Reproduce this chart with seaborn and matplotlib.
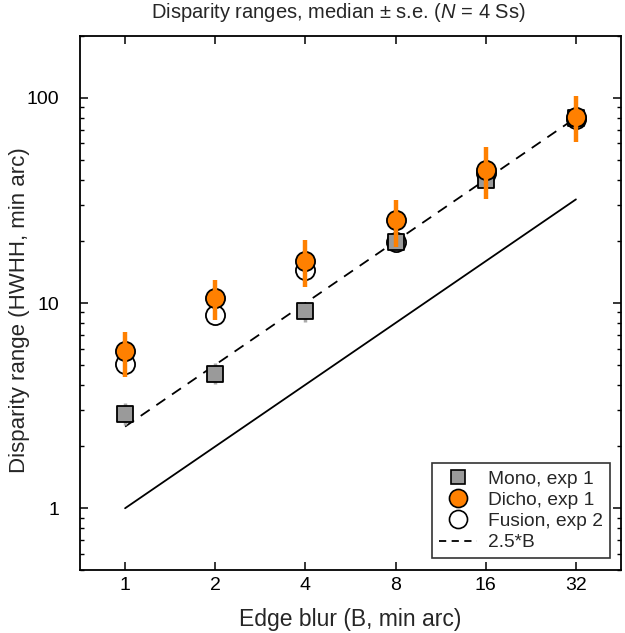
import numpy as np
import pandas as pd
import matplotlib
matplotlib.use("Agg")
import matplotlib.pyplot as plt
import seaborn as sns
from matplotlib.lines import Line2D
from matplotlib.ticker import FixedLocator, NullFormatter, LogLocator, NullLocator

sns.set_style("ticks")
plt.rcParams['font.family'] = ['Liberation Sans', 'DejaVu Sans']
plt.rcParams['mathtext.fontset'] = 'custom'
plt.rcParams['mathtext.rm'] = 'Liberation Sans'
plt.rcParams['mathtext.it'] = 'Liberation Sans:italic'

blur = [1, 2, 4, 8, 16, 32]
mono = [2.88, 4.5, 9.1, 19.9, 39.6, 80]
mono_lo = [2.55, 4.03, 8.1, 18.2, 36.5, 75]
mono_hi = [3.25, 5.1, 9.9, 21.5, 43, 86]
dicho = [5.82, 10.6, 16.1, 25.4, 44.3, 81]
dicho_lo = [4.36, 8.3, 12.0, 18.8, 32.1, 61]
dicho_hi = [7.2, 13.0, 20.3, 31.7, 57.3, 102]
fusion = [5.04, 8.7, 14.5, 19.9, 43, 79]
line_x = [1, 32]
ref_slope = 2.5

df = pd.DataFrame({"B": blur, "mono": mono, "dicho": dicho, "fusion": fusion})

fig = plt.figure(figsize=(6.25, 6.33), dpi=100)
ax = fig.add_axes([0.128, 0.0995, 0.8656, 0.8435])
ax.set_xscale("log")
ax.set_yscale("log")

orange = "#FF8000"
gray = "#9A9A9A"

# reference lines
lines_df = pd.DataFrame({"x": line_x, "y1": line_x, "y25": [ref_slope * v for v in line_x]})
sns.lineplot(data=lines_df, x="x", y="y1", ax=ax, color="black", lw=1.3, zorder=1)
ax.plot(lines_df["x"], lines_df["y25"], color="black", lw=1.3, dashes=(6, 4.5), zorder=1)

# mono error bars
ax.errorbar(blur, mono, yerr=[np.array(mono) - np.array(mono_lo), np.array(mono_hi) - np.array(mono)],
            fmt="none", ecolor="#AAAAAA", elinewidth=2.5, capsize=0, zorder=2)
# fusion
sns.scatterplot(data=df, x="B", y="fusion", ax=ax, marker="o", s=190, facecolor="white",
                edgecolor="black", linewidth=1.3, zorder=3)
# mono
sns.scatterplot(data=df, x="B", y="mono", ax=ax, marker="s", s=125, color=gray,
                edgecolor="black", linewidth=1.3, zorder=4)
# dicho
sns.scatterplot(data=df, x="B", y="dicho", ax=ax, marker="o", s=190, color=orange,
                edgecolor="black", linewidth=1.3, zorder=5)
ax.errorbar(blur, dicho, yerr=[np.array(dicho) - np.array(dicho_lo), np.array(dicho_hi) - np.array(dicho)],
            fmt="none", ecolor=orange, elinewidth=3.2, capsize=0, zorder=6)

ax.set_xlim(2 ** -0.5, 32 * 2 ** 0.5)
ax.set_ylim(0.5, 200)

ax.xaxis.set_major_locator(FixedLocator(blur))
ax.set_xticklabels([str(b) for b in blur])
ax.xaxis.set_minor_locator(NullLocator())
ax.yaxis.set_major_locator(FixedLocator([1, 10, 100]))
ax.set_yticklabels(["1", "10", "100"])
ax.yaxis.set_minor_locator(LogLocator(base=10, subs=np.arange(2, 10)))
ax.yaxis.set_minor_formatter(NullFormatter())

ax.tick_params(which="both", direction="in", top=True, right=True, labelsize=14, colors="black")
ax.tick_params(which="major", length=6, width=1.1)
ax.tick_params(axis="y", which="major", pad=15)
ax.tick_params(axis="x", which="major", pad=5)
ax.tick_params(which="minor", length=3, width=1.0)
for s in ax.spines.values():
    s.set_linewidth(1.3)
    s.set_color("black")

ax.set_xlabel("Edge blur (B, min arc)", fontsize=16.5, labelpad=10)
ax.set_ylabel("Disparity range (HWHH, min arc)", fontsize=16)
ax.yaxis.set_label_coords(-0.092, 0.487)
ax.set_title("Disparity ranges, median ± s.e. (" + r"$\mathit{N}$" + " = 4 Ss)", fontsize=14.5,
             pad=13, x=0.477)

handles = [
    Line2D([], [], marker="s", ls="none", markersize=10.5, markerfacecolor=gray, markeredgecolor="black", markeredgewidth=1.2),
    Line2D([], [], marker="o", ls="none", markersize=13, markerfacecolor=orange, markeredgecolor="black", markeredgewidth=1.2),
    Line2D([], [], marker="o", ls="none", markersize=13, markerfacecolor="white", markeredgecolor="black", markeredgewidth=1.2),
    Line2D([], [], color="black", lw=1.3, dashes=(4, 3)),
]
leg = ax.legend(handles, ["Mono, exp 1", "Dicho, exp 1", "Fusion, exp 2", "2.5*B"],
                loc="lower right", bbox_to_anchor=(0.98, 0.0225), borderaxespad=0,
                fontsize=13.8, frameon=True,
                fancybox=False, edgecolor="black", handlelength=2.0, handletextpad=0.6,
                labelspacing=0.2, borderpad=0.35)
leg.get_frame().set_linewidth(1.2)

fig.savefig("out.png", dpi=100)
